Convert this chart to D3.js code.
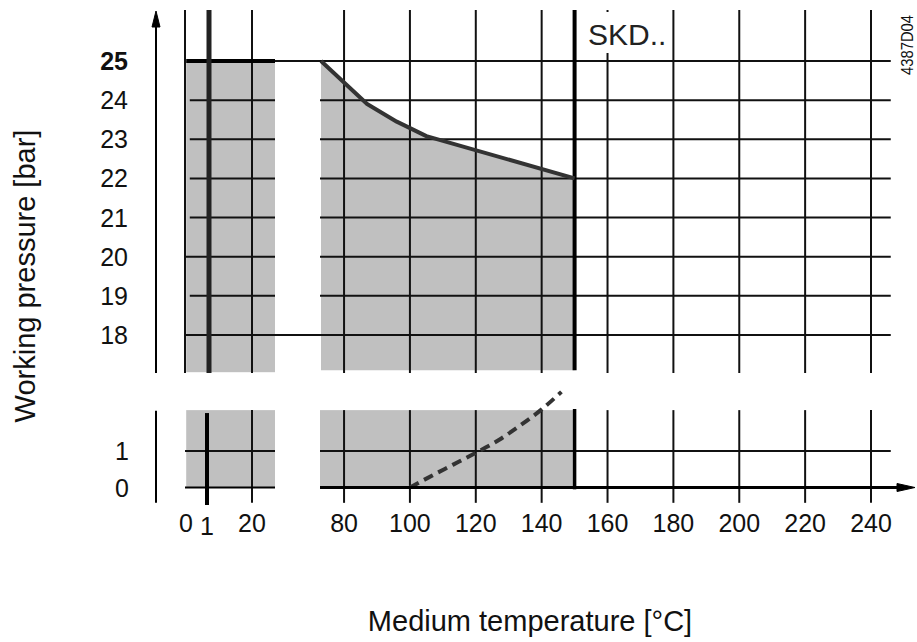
<!DOCTYPE html>
<html>
<head>
<meta charset="utf-8">
<script src="https://cdn.jsdelivr.net/npm/d3@7"></script>
<style>
  body { margin: 0; background: #fff; }
  svg { display: block; font-family: "Liberation Sans", Arial, Helvetica, sans-serif; }
</style>
</head>
<body>
<script>
// temperature ticks (x) and pressure ticks (y, broken axis)
var tempTicks = [0, 1, 20, 80, 100, 120, 140, 160, 180, 200, 220, 240];
var gridTemps = [0, 20, 80, 100, 120, 140, 160, 180, 200, 220, 240];
var pressTicksHigh = [18, 19, 20, 21, 22, 23, 24, 25];
var pressTicksLow = [0, 1];

// max working pressure vs temperature (SKD..)
var limitTemp = [73, 80, 87, 96, 105, 150];
var limitPress = [25, 24.45, 23.9, 23.45, 23.08, 22];

// dashed curve (lower part)
var steamTemp = [100, 107, 113, 120, 127, 133, 140, 146];
var steamPress = [0, 0.34, 0.62, 0.95, 1.3, 1.67, 2.14, 2.62];

var svgWidth = 917;
var svgHeight = 642;

var svg = d3.select("body")
  .append("svg")
  .attr("width", svgWidth)
  .attr("height", svgHeight);

// broken x axis: 0..27 and 73..240, with the 1 deg mark stretched
var x = d3.scaleLinear()
  .domain([0, 1, 20, 27, 73, 240])
  .range([185, 209, 252, 275, 321, 871]);

var yHigh = d3.scaleLinear().domain([18, 25]).range([335, 61]);
var yLow = d3.scaleLinear().domain([0, 1]).range([487.5, 451]);

var limitData = limitTemp.map((t, i) => [t, limitPress[i]]);
var steamData = steamTemp.map((t, i) => [t, steamPress[i]]);

var grey = "#c0c0c0";

// ---- grey areas
var upperArea = limitData.concat([[150, 17.1], [73, 17.1]]);
svg.append("path")
  .attr("d", d3.line().x(d => x(d[0])).y(d => yHigh(d[1]))(upperArea) + "Z")
  .attr("fill", grey);

svg.append("rect")
  .attr("x", x(0.05)).attr("y", yHigh(25))
  .attr("width", x(27) - x(0.05)).attr("height", yHigh(17.05) - yHigh(25))
  .attr("fill", grey);

svg.append("rect")
  .attr("x", x(0.05)).attr("y", yLow(2.12))
  .attr("width", x(27) - x(0.05)).attr("height", yLow(0) - yLow(2.12))
  .attr("fill", grey);

svg.append("rect")
  .attr("x", x(72)).attr("y", yLow(2.12))
  .attr("width", x(150) - x(72)).attr("height", yLow(0) - yLow(2.12))
  .attr("fill", grey);

// ---- grid
var grid = svg.append("g").attr("stroke", "#111").attr("stroke-width", 2);

pressTicksHigh.forEach(function(p) {
  var spans;
  if (p == 25) spans = [[27, 246]];
  else if (p == 18) spans = [[0, 246]];
  else if (p == 20) spans = [[0, 27], [72, 246]];
  else spans = [[0.2, 27], [72, 246]];
  spans.forEach(function(s) {
    grid.append("line")
      .attr("x1", x(s[0])).attr("x2", x(s[1]))
      .attr("y1", yHigh(p)).attr("y2", yHigh(p));
  });
});

grid.append("g").selectAll("line")
  .data([[0, 27], [72, 246]])
  .enter().append("line")
  .attr("x1", d => x(d[0])).attr("x2", d => x(d[1]))
  .attr("y1", yLow(1)).attr("y2", yLow(1));

grid.append("g").selectAll("line")
  .data(gridTemps)
  .enter().append("line")
  .attr("x1", d => x(d)).attr("x2", d => x(d))
  .attr("y1", yHigh(26.3)).attr("y2", yHigh(17.03));

grid.append("g").selectAll("line")
  .data(gridTemps.filter(d => d > 0))
  .enter().append("line")
  .attr("x1", d => x(d)).attr("x2", d => x(d))
  .attr("y1", yLow(2.12)).attr("y2", yLow(-0.42));

// ---- SKD label box
svg.append("rect")
  .attr("x", 583).attr("y", 12)
  .attr("width", 89).attr("height", 41)
  .attr("fill", "#fff");

svg.append("text")
  .attr("x", 588).attr("y", 45)
  .style("font-size", "30px")
  .style("fill", "#222")
  .text("SKD..");

// ---- thick lines
svg.append("line")
  .attr("x1", x(0.05)).attr("x2", x(27))
  .attr("y1", yHigh(25)).attr("y2", yHigh(25))
  .attr("stroke", "#000").attr("stroke-width", 4);

svg.append("line")
  .attr("x1", x(1)).attr("x2", x(1))
  .attr("y1", yHigh(26.3)).attr("y2", yHigh(17.03))
  .attr("stroke", "#222").attr("stroke-width", 5);

svg.append("line")
  .attr("x1", x(1) - 2).attr("x2", x(1) - 2)
  .attr("y1", yLow(2.04)).attr("y2", yLow(-0.48))
  .attr("stroke", "#000").attr("stroke-width", 4);

svg.append("line")
  .attr("x1", x(150)).attr("x2", x(150))
  .attr("y1", yHigh(26.3)).attr("y2", yHigh(17.1))
  .attr("stroke", "#000").attr("stroke-width", 4);

svg.append("line")
  .attr("x1", x(150)).attr("x2", x(150))
  .attr("y1", yLow(2.15)).attr("y2", yLow(-0.05))
  .attr("stroke", "#000").attr("stroke-width", 3.5);

svg.append("path")
  .attr("d", d3.line().x(d => x(d[0])).y(d => yHigh(d[1]))(limitData))
  .attr("fill", "none")
  .attr("stroke", "#333")
  .attr("stroke-width", 4)
  .attr("stroke-linejoin", "round");

svg.append("path")
  .attr("d", d3.line().x(d => x(d[0])).y(d => yLow(d[1])).curve(d3.curveMonotoneX)(steamData))
  .attr("fill", "none")
  .attr("stroke", "#333")
  .attr("stroke-width", 4)
  .attr("stroke-dasharray", "10,6");

// ---- axes
var axes = svg.append("g").attr("stroke", "#000");

axes.append("line")
  .attr("x1", 156).attr("x2", 156)
  .attr("y1", 25).attr("y2", yHigh(17.03))
  .attr("stroke-width", 2);
axes.append("path")
  .attr("d", "M156,11 L152,27 L160,27 Z")
  .attr("fill", "#000");
axes.append("line")
  .attr("x1", 156).attr("x2", 156)
  .attr("y1", yLow(2.1)).attr("y2", yLow(-0.42))
  .attr("stroke-width", 2);

axes.append("line")
  .attr("x1", x(0)).attr("x2", x(27))
  .attr("y1", yLow(0)).attr("y2", yLow(0))
  .attr("stroke-width", 2);
axes.append("line")
  .attr("x1", x(72)).attr("x2", 899)
  .attr("y1", yLow(0)).attr("y2", yLow(0))
  .attr("stroke-width", 3);
axes.append("path")
  .attr("d", `M915,${yLow(0)} L897,${yLow(0) - 4} L897,${yLow(0) + 4} Z`)
  .attr("fill", "#000");

// ---- tick labels
svg.append("g").selectAll("text")
  .data(tempTicks)
  .enter().append("text")
  .attr("x", d => d == 0 ? x(d) + 1 : x(d) - (d == 1 ? 2 : 0))
  .attr("y", d => d == 1 ? 535 : 532)
  .attr("text-anchor", "middle")
  .style("font-size", "25px")
  .style("fill", "#111")
  .text(d => d);

svg.append("g").selectAll("text")
  .data(pressTicksHigh)
  .enter().append("text")
  .attr("x", 128)
  .attr("y", d => yHigh(d))
  .attr("dy", "0.36em")
  .attr("text-anchor", "end")
  .style("font-size", "25px")
  .style("font-weight", d => d == 25 ? "bold" : "normal")
  .style("fill", "#111")
  .text(d => d);

svg.append("g").selectAll("text")
  .data(pressTicksLow)
  .enter().append("text")
  .attr("x", 129)
  .attr("y", d => yLow(d))
  .attr("dy", "0.36em")
  .attr("text-anchor", "end")
  .style("font-size", "25px")
  .style("fill", "#111")
  .text(d => d);

// ---- titles
svg.append("text")
  .attr("transform", "translate(35, 276) rotate(-90)")
  .attr("text-anchor", "middle")
  .style("font-size", "29px")
  .style("fill", "#111")
  .text("Working pressure [bar]");

svg.append("text")
  .attr("transform", "translate(530, 631)")
  .attr("text-anchor", "middle")
  .style("font-size", "29px")
  .style("fill", "#111")
  .text("Medium temperature [°C]");

svg.append("text")
  .attr("transform", "translate(913, 45) rotate(-90)")
  .attr("text-anchor", "middle")
  .attr("textLength", 60)
  .attr("lengthAdjust", "spacingAndGlyphs")
  .style("font-size", "17px")
  .style("fill", "#111")
  .text("4387D04");
</script>
</body>
</html>
